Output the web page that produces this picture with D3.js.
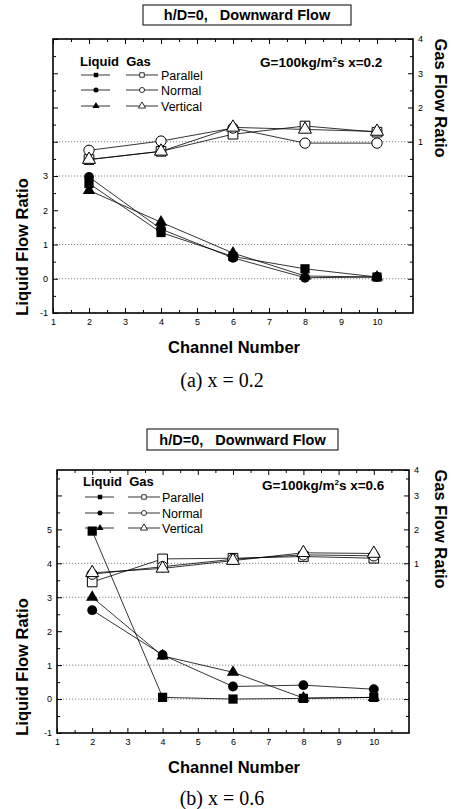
<!DOCTYPE html>
<html lang="en">
<head>
<meta charset="utf-8">
<title>h/D=0 Downward Flow</title>
<script src="https://cdn.jsdelivr.net/npm/d3@7"></script>
<style>
  body { margin: 0; background: #fff; }
  svg { display: block; font-family: "Liberation Sans", Arial, sans-serif; }
  text { fill: #000; }
</style>
</head>
<body>
<svg id="fig" width="454" height="809"></svg>
<script>
// ---------------- data ----------------
const channels = [2, 4, 6, 8, 10];
const seriesNames = ["Parallel", "Normal", "Vertical"];

// (a) x = 0.2
const liqA_parallel = [2.78, 1.35, 0.65, 0.29, 0.05];
const liqA_normal   = [2.97, 1.45, 0.61, 0.03, 0.05];
const liqA_vertical = [2.58, 1.65, 0.75, 0.08, 0.05];
const gasA_parallel = [0.48, 0.72, 1.22, 1.46, 1.28];
const gasA_normal   = [0.75, 1.02, 1.40, 0.96, 0.96];
const gasA_vertical = [0.48, 0.72, 1.42, 1.36, 1.30];

// (b) x = 0.6
const liqB_parallel = [4.95, 0.05, 0.00, 0.02, 0.05];
const liqB_normal   = [2.62, 1.30, 0.37, 0.41, 0.29];
const liqB_vertical = [3.00, 1.27, 0.79, 0.03, 0.05];
const gasB_parallel = [0.45, 1.13, 1.15, 1.20, 1.15];
const gasB_normal   = [0.68, 0.90, 1.12, 1.25, 1.22];
const gasB_vertical = [0.72, 0.85, 1.08, 1.31, 1.29];

// axis ticks / labels
const xMajor = [1, 2, 3, 4, 5, 6, 7, 8, 9, 10];
const xMinor = [1.5, 2.5, 3.5, 4.5, 5.5, 6.5, 7.5, 8.5, 9.5, 10.5];
const leftLabelsA = [-1, 0, 1, 2, 3];
const leftLabelsB = [-1, 0, 1, 2, 3, 4, 5];
const rightLabels = [1, 2, 3, 4];
const gridLiquid = [0, 1, 3, 4];

// ---------------- layout ----------------
const panels = [
  {
    left: 53, right: 413, top: 39, bottom: 313,
    yDomain: [-1, 7], gasDomain: [-4, 4],
    liq: [liqA_parallel, liqA_normal, liqA_vertical],
    gas: [gasA_parallel, gasA_normal, gasA_vertical],
    leftLabels: leftLabelsA,
    title: { x0: 143, x1: 351, y0: 5, y1: 25 },
    legend: { x: 80, head: 61, rows: [75, 90, 106], liqM: 96, gasM: 142, lab: 161 },
    cond: { x: 260, y: 62, xval: "0.2" },
    caption: { y: 380, text: "(a) x = 0.2" }
  },
  {
    left: 57, right: 409, top: 470, bottom: 733,
    yDomain: [-1, 6.75], gasDomain: [-4, 3.75],
    liq: [liqB_parallel, liqB_normal, liqB_vertical],
    gas: [gasB_parallel, gasB_normal, gasB_vertical],
    leftLabels: leftLabelsB,
    title: { x0: 147, x1: 338, y0: 429, y1: 450 },
    legend: { x: 83, head: 481, rows: [497, 513, 528], liqM: 100, gasM: 144, lab: 162 },
    cond: { x: 262, y: 485, xval: "0.6" },
    caption: { y: 798, text: "(b) x = 0.6" }
  }
];

const symbols = [d3.symbolSquare, d3.symbolCircle, d3.symbolTriangle];
const symSize = [85, 76, 66];
const legSize = [20, 20, 22];

const svg = d3.select("#fig");
panels.forEach(p => drawPanel(svg.append("g"), p));

function drawPanel(g, p) {
  const x = d3.scaleLinear().domain([1, 11]).range([p.left, p.right]);
  const yL = d3.scaleLinear().domain(p.yDomain).range([p.bottom, p.top]);
  const yR = d3.scaleLinear().domain(p.gasDomain).range([p.bottom, p.top]).clamp(true);

  // title box
  g.append("rect")
    .attr("x", p.title.x0).attr("y", p.title.y0)
    .attr("width", p.title.x1 - p.title.x0).attr("height", p.title.y1 - p.title.y0)
    .attr("fill", "#fff").attr("stroke", "#000").attr("stroke-width", 1);
  g.append("text")
    .attr("x", (p.title.x0 + p.title.x1) / 2).attr("y", (p.title.y0 + p.title.y1) / 2)
    .attr("dy", "0.36em").attr("text-anchor", "middle")
    .attr("font-size", 14.5).attr("font-weight", "bold")
    .style("white-space", "pre")
    .text("h/D=0,   Downward Flow");

  // grid lines
  g.append("g").selectAll("line").data(gridLiquid).join("line")
    .attr("x1", x(1)).attr("x2", x(11))
    .attr("y1", d => yL(d)).attr("y2", d => yL(d))
    .attr("stroke", "#666").attr("stroke-width", 0.8)
    .attr("stroke-dasharray", "1.2,1.8");

  // series lines
  const lineL = d3.line().x((d, i) => x(channels[i])).y(d => yL(d));
  const lineG = d3.line().x((d, i) => x(channels[i])).y(d => yR(d));
  p.liq.forEach(s => g.append("path").attr("d", lineL(s))
    .attr("fill", "none").attr("stroke", "#000").attr("stroke-width", 0.8));
  p.gas.forEach(s => g.append("path").attr("d", lineG(s))
    .attr("fill", "none").attr("stroke", "#000").attr("stroke-width", 0.8));

  // markers
  p.gas.forEach((s, k) => {
    g.append("g").selectAll("path").data(s).join("path")
      .attr("transform", (d, i) => `translate(${x(channels[i])},${yR(d)})`)
      .attr("d", d3.symbol(symbols[k], symSize[k] + 8))
      .attr("fill", "#fff").attr("stroke", "#000").attr("stroke-width", 1);
  });
  p.liq.forEach((s, k) => {
    g.append("g").selectAll("path").data(s).join("path")
      .attr("transform", (d, i) => `translate(${x(channels[i])},${yL(d)})`)
      .attr("d", d3.symbol(symbols[k], symSize[k]))
      .attr("fill", "#000");
  });

  // frame
  g.append("rect")
    .attr("x", x(1)).attr("y", p.top)
    .attr("width", x(11) - x(1)).attr("height", p.bottom - p.top)
    .attr("fill", "none").attr("stroke", "#000").attr("stroke-width", 1.6);

  // axes (ticks pointing inward)
  const fmt = v => String(v);
  const styleAxis = a => a.call(s => s.select(".domain").remove())
    .attr("font-family", null).attr("font-size", 9);

  g.append("g").attr("transform", `translate(0,${p.bottom})`)
    .call(d3.axisBottom(x).tickValues(xMajor).tickSize(-5).tickPadding(6).tickFormat(fmt))
    .call(styleAxis);
  g.append("g").attr("transform", `translate(0,${p.bottom})`)
    .call(d3.axisBottom(x).tickValues(xMinor).tickSize(-3).tickFormat(""))
    .call(styleAxis);
  g.append("g").attr("transform", `translate(0,${p.top})`)
    .call(d3.axisTop(x).tickValues(xMajor).tickSize(-5).tickFormat(""))
    .call(styleAxis);
  g.append("g").attr("transform", `translate(0,${p.top})`)
    .call(d3.axisTop(x).tickValues(xMinor).tickSize(-3).tickFormat(""))
    .call(styleAxis);

  const yMajor = d3.range(-1, Math.floor(p.yDomain[1]) + 1);
  const yMinor = d3.range(-0.5, p.yDomain[1], 1);
  g.append("g").attr("transform", `translate(${p.left},0)`)
    .call(d3.axisLeft(yL).tickValues(yMajor).tickSize(-5).tickPadding(5)
      .tickFormat(d => p.leftLabels.includes(d) ? fmt(d) : ""))
    .call(styleAxis);
  g.append("g").attr("transform", `translate(${p.left},0)`)
    .call(d3.axisLeft(yL).tickValues(yMinor).tickSize(-3).tickFormat(""))
    .call(styleAxis);

  const rMajor = [-3, -2, -1, 0, 1, 2, 3, 4];
  const rMinor = d3.range(-3.5, p.gasDomain[1], 1);
  g.append("g").attr("transform", `translate(${p.right},0)`)
    .call(d3.axisRight(yR).tickValues(rMajor).tickSize(-5).tickPadding(5)
      .tickFormat(d => rightLabels.includes(d) ? fmt(d) : ""))
    .call(styleAxis);
  g.append("g").attr("transform", `translate(${p.right},0)`)
    .call(d3.axisRight(yR).tickValues(rMinor).tickSize(-3).tickFormat(""))
    .call(styleAxis);

  // axis titles
  g.append("text")
    .attr("transform", `translate(22,${p.bottom - 66}) rotate(-90)`)
    .attr("text-anchor", "middle").attr("dy", "0.36em")
    .attr("font-size", 16.5).attr("font-weight", "bold")
    .text("Liquid Flow Ratio");
  g.append("text")
    .attr("transform", `translate(441,${p.top + 59}) rotate(90)`)
    .attr("text-anchor", "middle").attr("dy", "0.36em")
    .attr("font-size", 16.5).attr("font-weight", "bold")
    .text("Gas Flow Ratio");
  g.append("text")
    .attr("x", (x(1) + x(11)) / 2 + 1).attr("y", p.bottom + 34)
    .attr("dy", "0.36em").attr("text-anchor", "middle")
    .attr("font-size", 16.5).attr("font-weight", "bold")
    .text("Channel Number");

  // caption
  g.append("text")
    .attr("x", 222).attr("y", p.caption.y)
    .attr("dy", "0.36em").attr("text-anchor", "middle")
    .style("font-family", "'Liberation Serif', 'Times New Roman', serif")
    .attr("font-size", 20)
    .style("white-space", "pre")
    .text(p.caption.text);

  // condition label
  const c = g.append("text")
    .attr("x", p.cond.x).attr("y", p.cond.y).attr("dy", "0.36em")
    .attr("font-size", 13.5).attr("font-weight", "bold");
  c.append("tspan").text("G=100kg/m");
  c.append("tspan").attr("dy", -5).attr("font-size", 8).text("2");
  c.append("tspan").attr("dy", 5).text("s x=" + p.cond.xval);

  // legend
  const L = p.legend;
  g.append("text").attr("x", L.x).attr("y", L.head).attr("dy", "0.36em")
    .attr("font-size", 13).attr("font-weight", "bold")
    .style("white-space", "pre").text("Liquid  Gas");
  seriesNames.forEach((name, k) => {
    const yy = L.rows[k];
    g.append("line").attr("x1", L.liqM - 15).attr("x2", L.liqM + 14)
      .attr("y1", yy).attr("y2", yy).attr("stroke", "#000").attr("stroke-width", 0.8);
    g.append("line").attr("x1", L.gasM - 16).attr("x2", L.gasM + 16)
      .attr("y1", yy).attr("y2", yy).attr("stroke", "#000").attr("stroke-width", 0.8);
    g.append("path").attr("transform", `translate(${L.liqM},${yy})`)
      .attr("d", d3.symbol(symbols[k], legSize[k])).attr("fill", "#000");
    g.append("path").attr("transform", `translate(${L.gasM},${yy})`)
      .attr("d", d3.symbol(symbols[k], legSize[k]))
      .attr("fill", "#fff").attr("stroke", "#000").attr("stroke-width", 0.8);
    g.append("text").attr("x", L.lab).attr("y", yy).attr("dy", "0.36em")
      .attr("font-size", 12.5).text(name);
  });
}
</script>
</body>
</html>
